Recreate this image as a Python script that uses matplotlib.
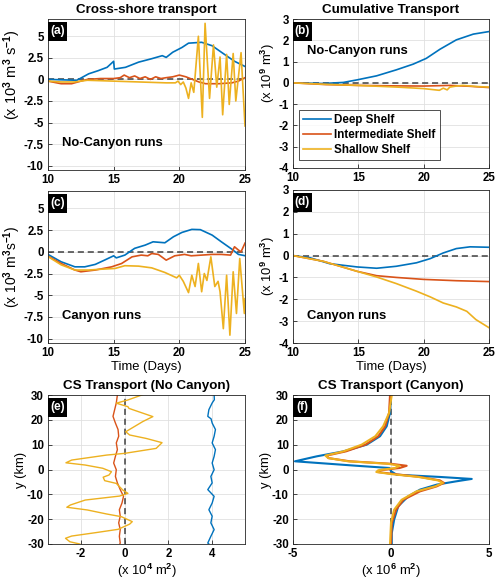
import numpy as np
import matplotlib
matplotlib.use('Agg')
import matplotlib.pyplot as plt
from matplotlib.patches import Rectangle

plt.rcParams['font.family'] = ['Liberation Sans', 'DejaVu Sans']
plt.rcParams['font.weight'] = 'bold'
plt.rcParams['axes.unicode_minus'] = False
plt.rcParams['mathtext.fontset'] = 'custom'
plt.rcParams['mathtext.rm'] = 'Liberation Sans:bold'
plt.rcParams['mathtext.bf'] = 'Liberation Sans:bold'
plt.rcParams['mathtext.it'] = 'Liberation Sans:bold'
plt.rcParams['mathtext.default'] = 'rm'

BLUE = '#0072BD'
ORANGE = '#D95319'
YELLOW = '#EDB120'

# ---------------- (a) cross-shore transport, no canyon ----------------
a_deep_t = [10, 12.2, 13.1, 13.8, 14.5, 15.0, 15.05, 15.9, 16.9, 17.9, 18.7, 19.0, 19.5, 20.2, 20.7, 21.7, 22.5, 23.2, 24.2, 25]
a_deep_v = [0.0, -0.1, 0.65, 1.0, 1.4, 2.1, 1.2, 1.4, 2.0, 2.4, 2.75, 2.55, 3.15, 3.7, 4.2, 4.3, 3.9, 3.15, 2.1, 1.5]
a_mid_t = [10, 11, 11.8, 12.5, 13, 14, 15, 15.5, 15.8, 16.2, 16.6, 17, 17.4, 17.8, 18.2, 18.6, 19, 19.5, 20, 20.5, 21, 21.5, 22, 23, 24, 24.5, 25]
a_mid_v = [-0.2, -0.5, -0.5, -0.2, 0.0, 0.1, 0.1, 0.2, 0.5, 0.2, 0.4, 0.1, 0.3, 0.0, 0.3, 0.1, 0.2, 0.3, 0.5, 0.3, 0.0, -0.3, -0.5, -0.5, -0.4, -0.2, 0.2]
a_shal_t = [10, 11, 12, 13, 15, 17, 19, 19.7, 19.9, 20.1, 20.3, 20.5, 20.7, 20.9, 21.1, 21.45, 21.75, 21.96, 22.3, 22.6, 22.85, 23.1, 23.3, 23.6, 23.8, 24.1, 24.3, 24.7, 25]
a_shal_v = [-0.2, -0.3, -0.3, -0.1, -0.2, -0.3, -0.4, -0.4, -0.2, -0.6, -0.3, -1.0, -2.2, -0.4, -1.5, 5.0, -4.4, 6.5, -2.2, 4.0, -0.9, 2.6, -4.1, 2.9, -2.9, 3.0, -2.5, 3.1, -5.4]

# ---------------- (b) cumulative transport, no canyon ----------------
b_deep_t = [10, 12.3, 13.85, 14.9, 16.4, 17.9, 19.2, 20.2, 21.25, 22.5, 23.8, 25]
b_deep_v = [0.0, -0.03, 0.02, 0.14, 0.33, 0.61, 0.88, 1.15, 1.58, 2.02, 2.29, 2.41]
b_mid_t = [10, 12.5, 15, 17.5, 20, 22, 23.5, 25]
b_mid_v = [0.0, -0.08, -0.12, -0.14, -0.15, -0.12, -0.16, -0.22]
b_shal_t = [10, 12.5, 15, 18, 20, 21.2, 21.5, 21.8, 22, 22.5, 23, 24, 25]
b_shal_v = [0.0, -0.07, -0.12, -0.2, -0.27, -0.35, -0.25, -0.33, -0.2, -0.15, -0.12, -0.17, -0.2]

# ---------------- (c) cross-shore transport, canyon ----------------
c_deep_t = [10, 11.0, 12.05, 12.8, 13.6, 14.3, 15.0, 15.2, 15.85, 16.6, 17.4, 18.0, 18.9, 19.55, 20.2, 20.95, 21.6, 22.5, 23.2, 24.0, 24.5, 25]
c_deep_v = [-0.3, -1.15, -1.73, -1.73, -1.45, -0.96, -0.46, -0.7, -0.38, 0.4, 0.77, 1.15, 1.04, 1.73, 2.23, 2.58, 2.55, 1.92, 1.15, 0.3, -0.3, -0.45]
c_mid_t = [10, 11.0, 12.05, 12.5, 13.6, 14.85, 15.6, 16.4, 17.1, 17.6, 17.9, 18.4, 19.0, 19.65, 20.4, 20.9, 21.7, 22.5, 23.2, 23.9, 24.2, 24.5, 24.7, 25]
c_mid_v = [-0.5, -1.34, -2.1, -2.3, -2.1, -1.73, -1.35, -0.58, -0.38, -0.46, -0.2, -0.3, -0.96, -0.46, -0.3, -0.46, -0.38, -0.3, -0.3, -0.38, 0.58, 0.2, 0.0, 1.0]
c_shal_t = [10, 11, 12.05, 13.1, 14.1, 15.1, 15.85, 16.9, 17.9, 18.9, 19.8, 20.0, 20.3, 20.7, 20.95, 21.2, 21.45, 21.7, 21.9, 22.1, 22.4, 22.7, 22.95, 23.1, 23.35, 23.6, 23.85, 24.1, 24.35, 24.6, 24.95, 25]
c_shal_v = [-0.55, -1.5, -2.1, -2.1, -2.0, -1.92, -1.6, -1.65, -1.85, -2.38, -3.0, -2.7, -3.4, -4.7, -2.7, -4.0, -1.34, -4.6, -2.5, -3.3, -0.58, -4.0, -3.4, -4.6, -8.85, -2.7, -9.6, -2.3, -7.1, -0.77, -7.1, -5.4]

# ---------------- (d) cumulative transport, canyon ----------------
d_deep_t = [10, 11.3, 12.8, 14.9, 16.4, 17.9, 19.45, 20.5, 21.5, 22.5, 23.55, 25]
d_deep_v = [0.0, -0.1, -0.37, -0.52, -0.58, -0.49, -0.33, -0.14, 0.12, 0.32, 0.4, 0.38]
d_mid_t = [10, 12.3, 14.9, 16.4, 17.9, 20.0, 22.5, 25]
d_mid_v = [0.0, -0.26, -0.72, -0.92, -1.0, -1.09, -1.15, -1.19]
d_shal_t = [10, 12.3, 14.9, 16.4, 17.9, 19.45, 20.5, 21.5, 22.5, 23.3, 24.0, 25]
d_shal_v = [0.0, -0.26, -0.72, -0.98, -1.28, -1.63, -1.89, -2.17, -2.35, -2.55, -2.93, -3.3]

# ---------------- (e) CS transport profile, no canyon (x 1e4 m^2) ----------------
e_deep_y = [30, 28.1, 26.8, 24.1, 21.4, 20.4, 18.7, 16.1, 13.4, 10.7, 8.0, 5.3, 2.6, -0.1, -2.8, -5.4, -8.1, -10.8, -13.5, -16.2, -18.8, -21.5, -24.2, -26.9, -29.6, -30]
e_deep_v = [4.09, 4.1, 4.0, 3.85, 3.8, 3.95, 4.0, 4.15, 4.09, 4.0, 4.15, 4.09, 4.0, 4.09, 3.94, 4.0, 3.8, 4.09, 4.0, 3.85, 4.0, 3.94, 4.09, 3.94, 3.8, 3.85]
e_mid_y = [30, 26.8, 21.4, 18.7, 16.1, 13.4, 10.7, 8.0, 5.3, 2.6, -0.1, -2.8, -5.4, -8.1, -10.8, -13.5, -16.2, -18.8, -21.5, -24.2, -26.9, -29.6, -30]
e_mid_v = [-0.33, -0.38, -0.53, -0.42, -0.3, -0.27, -0.38, -0.33, -0.42, -0.5, -0.38, -0.42, -0.33, -0.2, -0.05, -0.12, -0.24, -0.2, -0.27, -0.2, -0.24, -0.2, -0.22]
e_shal_y = [30.4, 28, 26.7, 25.3, 24.6, 21.3, 19.3, 15.2, 13.9, 12.5, 10.8, 8.5, 6.5, 5.8, 3.8, 2.7, 1.8, 0.5, -0.9, -2.2, -3.1, -4.5, -5.6, -8.3, -9.6, -10.7, -12.3, -14.3, -15.2, -16.3, -17.9, -19.0, -21, -22, -24.1, -25.4, -26.8, -27.7, -29.1, -30]
e_shal_v = [0.91, 0.15, -0.38, 0.15, 0.2, 1.29, 0.83, 0.05, 0.23, 0.99, 1.71, 1.44, 0.0, -0.83, -2.42, -2.68, -1.8, -1.0, -0.6, -0.71, -0.98, -0.91, -0.38, -0.08, 0.15, -0.23, -1.8, -2.48, -2.64, -1.7, -0.83, -0.15, 0.35, 0.23, -0.3, -1.3, -2.42, -2.7, -2.5, -2.05]

# ---------------- (f) CS transport profile, canyon (x 1e6 m^2) ----------------
f_deep_y = [30, 22.75, 17.4, 13.4, 10.0, 7.3, 5.3, 3.3, 1.5, 0.6, -0.7, -2.1, -3.0, -3.8, -4.8, -6.1, -8.1, -10.8, -14.8, -20.2, -25.6, -30]
f_deep_v = [0.0, -0.05, -0.22, -0.56, -1.24, -2.43, -3.79, -4.9, -1.75, -0.07, 0.0, 0.29, 2.5, 4.12, 3.3, 2.33, 1.48, 0.88, 0.37, 0.16, 0.04, 0.04]
f_mid_y = [30, 22.75, 17.4, 13.4, 10.0, 7.3, 5.6, 4.6, 3.3, 2.3, 1.5, 0.6, -0.3, -1.0, -1.8, -3.0, -4.4, -5.4, -6.8, -8.8, -12.2, -16.2, -21.5, -30]
f_mid_v = [-0.05, -0.1, -0.3, -0.65, -1.3, -2.3, -3.28, -3.2, -2.1, 0.0, 0.8, 0.44, -0.56, -0.7, 0.12, 1.48, 2.5, 2.7, 2.33, 1.48, 0.63, 0.26, 0.04, 0.0]
f_shal_y = [30, 22.75, 17.4, 13.4, 10.0, 7.3, 5.6, 4.6, 3.3, 2.3, 1.5, 0.6, -0.3, -1.0, -1.8, -3.0, -4.4, -5.4, -6.8, -8.8, -12.2, -16.2, -21.5, -30]
f_shal_v = [0.04, -0.1, -0.4, -0.8, -1.5, -2.43, -3.35, -3.2, -2.2, -0.15, 0.44, 0.2, -0.65, -0.75, -0.05, 1.4, 2.4, 2.65, 2.25, 1.3, 0.54, 0.16, 0.0, -0.05]

time_ticks = [10, 15, 20, 25]
flux_ticks = [-10, -7.5, -5, -2.5, 0, 2.5, 5]
flux_ticklabels = ['-10', '-7.5', '-5', '-2.5', '0', '2.5', '5']
cum_ticks = [-4, -3, -2, -1, 0, 1, 2, 3]
y_ticks = [-30, -20, -10, 0, 10, 20, 30]
e_xticks = [-2, 0, 2, 4]
f_xticks = [-5, 0, 5]
legend_labels = ['Deep Shelf', 'Intermediate Shelf', 'Shallow Shelf']

W, H = 500, 583
fig = plt.figure(figsize=(W / 100, H / 100), dpi=100)


def rect(l, t, r, b):
    return [l / W, 1 - b / H, (r - l) / W, (b - t) / H]


TICKFS = 8.3
LABFS = 9.4
TITFS = 9.6
RUNFS = 9.4
LW = 1.2


def style(ax, label):
    for s in ax.spines.values():
        s.set_color('0.15')
        s.set_linewidth(0.6)
    ax.tick_params(direction='in', length=3, width=0.6, labelsize=TICKFS, colors='0.15',
                   labelcolor='black', pad=3)
    ax.grid(True, color='0.88', lw=0.6)
    ax.set_axisbelow(True)
    pos = ax.get_position()
    axw = pos.width * W
    axh = pos.height * H
    bw, bh, off = 18.5, 18.5, 3.0
    ax.add_patch(Rectangle((0.0, 1 - (off + bh) / axh), bw / axw, bh / axh,
                           transform=ax.transAxes, facecolor='black', edgecolor='none',
                           zorder=5, clip_on=False))
    ax.text(bw / 2 / axw, 1 - (off + bh / 2) / axh, label, transform=ax.transAxes,
            ha='center', va='center', color='white', fontsize=8.6, fontweight='bold', zorder=6)


ax_a = fig.add_axes(rect(48, 19, 245, 170))
ax_b = fig.add_axes(rect(293, 19, 489, 168))
ax_c = fig.add_axes(rect(48, 191, 245, 343))
ax_d = fig.add_axes(rect(293, 190, 489, 343))
ax_e = fig.add_axes(rect(48, 395, 245, 544))
ax_f = fig.add_axes(rect(293, 395, 489, 544))

# (a)
ax = ax_a
ax.axhline(0, color='0.25', ls='--', lw=1.1, dashes=(4, 2.5), zorder=1)
ax.plot(a_deep_t, a_deep_v, color=BLUE, lw=LW)
ax.plot(a_mid_t, a_mid_v, color=ORANGE, lw=LW)
ax.plot(a_shal_t, a_shal_v, color=YELLOW, lw=LW)
ax.set_xlim(10, 25)
ax.set_ylim(-10.5, 7)
ax.set_xticks(time_ticks)
ax.set_yticks(flux_ticks)
ax.set_yticklabels(flux_ticklabels)
ax.set_ylabel('(x 10$^3$ m$^3$ s$^{-1}$)', fontsize=10.5)
ax.yaxis.set_label_coords(-0.125, 0.635)
ax.set_title('Cross-shore transport', fontsize=TITFS, fontweight='bold', pad=4)
ax.text(0.07, 0.18, 'No-Canyon runs', transform=ax.transAxes, fontsize=RUNFS, va='center')
style(ax, '(a)')

# (b)
ax = ax_b
ax.axhline(0, color='0.25', ls='--', lw=1.1, dashes=(4, 2.5), zorder=1)
h1, = ax.plot(b_deep_t, b_deep_v, color=BLUE, lw=LW)
h2, = ax.plot(b_mid_t, b_mid_v, color=ORANGE, lw=LW)
h3, = ax.plot(b_shal_t, b_shal_v, color=YELLOW, lw=LW)
ax.set_xlim(10, 25)
ax.set_ylim(-4, 3)
ax.set_xticks(time_ticks)
ax.set_yticks(cum_ticks)
ax.set_ylabel('(x 10$^9$ m$^3$)', fontsize=LABFS)
ax.yaxis.set_label_coords(-0.082, 0.64)
ax.set_title('Cumulative Transport', fontsize=TITFS, fontweight='bold', pad=4)
ax.text(0.07, 0.785, 'No-Canyon runs', transform=ax.transAxes, fontsize=RUNFS, va='center')
leg = ax.legend([h1, h2, h3], legend_labels, loc='lower left', bbox_to_anchor=(0.03, 0.054),
                borderaxespad=0, fontsize=8.4, frameon=True, fancybox=False, handlelength=2.4,
                handletextpad=0.3, labelspacing=0.25, borderpad=0.35)
leg.get_frame().set_edgecolor('black')
leg.get_frame().set_linewidth(0.6)
style(ax, '(b)')

# (c)
ax = ax_c
ax.axhline(0, color='0.25', ls='--', lw=1.1, dashes=(4, 2.5), zorder=1)
ax.plot(c_deep_t, c_deep_v, color=BLUE, lw=LW)
ax.plot(c_mid_t, c_mid_v, color=ORANGE, lw=LW)
ax.plot(c_shal_t, c_shal_v, color=YELLOW, lw=LW)
ax.set_xlim(10, 25)
ax.set_ylim(-10.5, 7)
ax.set_xticks(time_ticks)
ax.set_yticks(flux_ticks)
ax.set_yticklabels(flux_ticklabels)
ax.set_ylabel('(x 10$^3$ m$^3$s$^{-1}$)', fontsize=10)
ax.yaxis.set_label_coords(-0.125, 0.5)
ax.set_xlabel('Time (Days)', fontsize=LABFS, labelpad=1)
ax.text(0.07, 0.175, 'Canyon runs', transform=ax.transAxes, fontsize=RUNFS, va='center')
style(ax, '(c)')

# (d)
ax = ax_d
ax.axhline(0, color='0.25', ls='--', lw=1.1, dashes=(4, 2.5), zorder=1)
ax.plot(d_deep_t, d_deep_v, color=BLUE, lw=LW)
ax.plot(d_mid_t, d_mid_v, color=ORANGE, lw=LW)
ax.plot(d_shal_t, d_shal_v, color=YELLOW, lw=LW)
ax.set_xlim(10, 25)
ax.set_ylim(-4, 3)
ax.set_xticks(time_ticks)
ax.set_yticks(cum_ticks)
ax.set_ylabel('(x 10$^9$ m$^3$)', fontsize=LABFS)
ax.yaxis.set_label_coords(-0.082, 0.5)
ax.set_xlabel('Time (Days)', fontsize=LABFS, labelpad=1)
ax.text(0.07, 0.175, 'Canyon runs', transform=ax.transAxes, fontsize=RUNFS, va='center')
style(ax, '(d)')

# (e)
ax = ax_e
ax.axvline(0, color='0.25', ls='--', lw=1.1, dashes=(4, 2.5), zorder=1)
ax.plot(e_deep_v, e_deep_y, color=BLUE, lw=1.0)
ax.plot(e_mid_v, e_mid_y, color=ORANGE, lw=1.0)
ax.plot(e_shal_v, e_shal_y, color=YELLOW, lw=1.0)
ax.set_xlim(-3.5, 5.5)
ax.set_ylim(-30, 30)
ax.set_xticks(e_xticks)
ax.set_yticks(y_ticks)
ax.set_ylabel('y (km)', fontsize=LABFS, labelpad=0)
ax.set_xlabel('(x 10$^4$ m$^2$)', fontsize=LABFS, labelpad=1)
ax.set_title('CS Transport (No Canyon)', fontsize=TITFS, fontweight='bold', pad=4)
style(ax, '(e)')

# (f)
ax = ax_f
ax.axvline(0, color='0.25', ls='--', lw=1.1, dashes=(4, 2.5), zorder=1)
ax.plot(f_deep_v, f_deep_y, color=BLUE, lw=1.5)
ax.plot(f_mid_v, f_mid_y, color=ORANGE, lw=1.5)
ax.plot(f_shal_v, f_shal_y, color=YELLOW, lw=1.5)
ax.set_xlim(-5, 5)
ax.set_ylim(-30, 30)
ax.set_xticks(f_xticks)
ax.set_yticks(y_ticks)
ax.set_ylabel('y (km)', fontsize=LABFS, labelpad=0)
ax.set_xlabel('(x 10$^6$ m$^2$)', fontsize=LABFS, labelpad=1)
ax.set_title('CS Transport (Canyon)', fontsize=TITFS, fontweight='bold', pad=4)
style(ax, '(f)')

fig.savefig('out.png', dpi=100)
